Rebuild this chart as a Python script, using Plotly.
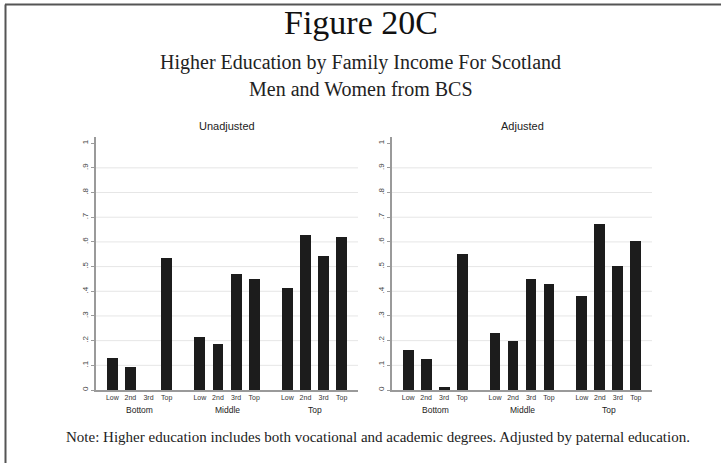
import plotly.graph_objects as go

groups = ["Bottom", "Middle", "Top"]
quartiles = ["Low", "2nd", "3rd", "Top"]
unadjusted = [[0.131, 0.094, 0.0, 0.535],
              [0.213, 0.186, 0.468, 0.448],
              [0.412, 0.629, 0.541, 0.619]]
adjusted = [[0.162, 0.127, 0.013, 0.553],
            [0.230, 0.198, 0.448, 0.429],
            [0.382, 0.672, 0.503, 0.605]]
ytick_vals = [0, 0.1, 0.2, 0.3, 0.4, 0.5, 0.6, 0.7, 0.8, 0.9, 1.0]
ytick_text = ["0", ".1", ".2", ".3", ".4", ".5", ".6", ".7", ".8", ".9", "1"]
panel_titles = ["Unadjusted", "Adjusted"]

GSTEP = 4.83  # group spacing in slot units
W, H = 721, 463

def positions():
    xs, labels = [], []
    for g in range(len(groups)):
        for i in range(len(quartiles)):
            xs.append(g * GSTEP + i)
            labels.append(quartiles[i])
    return xs, labels

xs, xlabels = positions()

fig = go.Figure()
serif = "Liberation Serif"
sans = "Liberation Sans"

domains = [(96 / W, 358 / W), (392 / W, 652 / W)]
ydom = ((H - 390) / H, (H - 137) / H)

for k, data in enumerate([unadjusted, adjusted]):
    vals = [v for row in data for v in row]
    xa = "x" if k == 0 else "x2"
    ya = "y" if k == 0 else "y2"
    fig.add_trace(go.Bar(x=xs, y=vals, width=0.6, marker=dict(color="#1c1c1c", line=dict(width=0)),
                         xaxis=xa, yaxis=ya, showlegend=False, hoverinfo="skip"))
    axx = "xaxis" if k == 0 else "xaxis2"
    axy = "yaxis" if k == 0 else "yaxis2"
    fig.update_layout(**{
        axx: dict(domain=list(domains[k]), anchor=ya, range=[-0.9, 2 * GSTEP + 3 + 0.9],
                  tickvals=xs, ticktext=xlabels, ticks="", showgrid=False, zeroline=False,
                  showline=True, linecolor="#9a9a9a", linewidth=1.5,
                  tickfont=dict(family=sans, size=7, color="#333"), automargin=False),
        axy: dict(domain=list(ydom), anchor=xa, range=[0, 1.025], tickvals=ytick_vals, ticktext=ytick_text,
                  tickangle=-90, ticks="outside", ticklen=3, tickcolor="#9a9a9a", showgrid=False,
                  zeroline=False, showline=True, linecolor="#9a9a9a", linewidth=1.5,
                  tickfont=dict(family=sans, size=8, color="#444"), automargin=False),
    })
    xref = "x" if k == 0 else "x2"
    yref = "y" if k == 0 else "y2"
    for v in ytick_vals[1:-1]:
        fig.add_shape(type="line", xref=f"{xref} domain", yref=yref, x0=0, x1=1, y0=v, y1=v,
                      line=dict(color="#e6e6e6", width=1), layer="below")
    for g, name in enumerate(groups):
        fig.add_annotation(x=g * GSTEP + 1.5, y=0, xref=xref, yref=yref, text=name, showarrow=False,
                           yshift=-20, yanchor="middle", font=dict(family=sans, size=8.5, color="#222"))
    fig.add_annotation(x=0.5, y=1, xref=f"{xref} domain", yref=f"{yref} domain", text=panel_titles[k],
                       showarrow=False, yanchor="bottom", yshift=3, font=dict(family=sans, size=11, color="#222"))

# Headline texts
fig.add_annotation(x=0.5, y=1 - 22 / H, xref="paper", yref="paper", text="Figure 20C", showarrow=False,
                   yanchor="middle", font=dict(family=serif, size=34, color="#111"))
fig.add_annotation(x=0.5, y=1 - 62 / H, xref="paper", yref="paper",
                   text="Higher Education by Family Income For Scotland", showarrow=False,
                   yanchor="middle", font=dict(family=serif, size=20, color="#222"))
fig.add_annotation(x=0.5, y=1 - 89 / H, xref="paper", yref="paper", text="Men and Women from BCS",
                   showarrow=False, yanchor="middle", font=dict(family=serif, size=20, color="#222"))
fig.add_annotation(x=377.5 / W, y=1 - 437 / H, xref="paper", yref="paper",
                   text="Note: Higher education includes both vocational and academic degrees. Adjusted by paternal education.",
                   showarrow=False, yanchor="middle", font=dict(family=serif, size=15, color="#222"))

# frame lines (top and left)
fig.add_shape(type="line", xref="paper", yref="paper", x0=5 / W, x1=1, y0=1 - 4.5 / H, y1=1 - 4.5 / H,
              line=dict(color="#555", width=2))
fig.add_shape(type="line", xref="paper", yref="paper", x0=5.5 / W, x1=5.5 / W, y0=0, y1=1 - 4.5 / H,
              line=dict(color="#555", width=2))

fig.update_layout(width=W, height=H, margin=dict(l=0, r=0, t=0, b=0), paper_bgcolor="white",
                  plot_bgcolor="white", bargap=0)
fig.write_html("out.html", config={"displayModeBar": False},
               post_script="document.body.style.margin='0';document.body.style.overflow='hidden';")
